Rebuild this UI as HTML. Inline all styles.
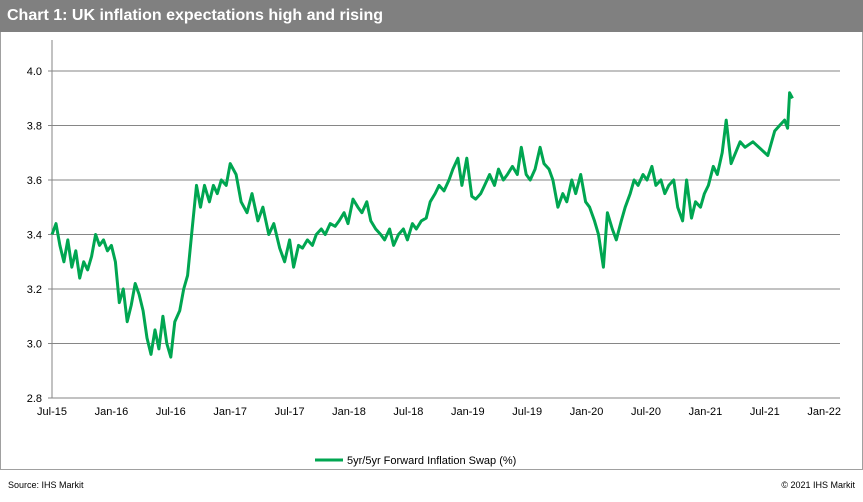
<!DOCTYPE html>
<html><head><meta charset="utf-8"><style>
body{margin:0;background:#fff;font-family:"Liberation Sans",sans-serif;}
#wrap{position:relative;width:863px;height:502px;overflow:hidden;background:#fff;}
#hdr{position:absolute;left:0;top:0;width:863px;height:32px;background:#808080;}
#hdr span{position:absolute;left:7px;top:7px;color:#fff;font-weight:bold;font-size:16px;}
#frame{position:absolute;left:0;top:32px;width:861px;height:437px;border:1px solid #a0a0a0;border-top:none;}
#src{position:absolute;left:8px;top:480px;font-size:9px;color:#000;}
#copy{position:absolute;right:8px;top:480px;font-size:9px;color:#000;}
</style></head><body>
<div id="wrap">
<div id="hdr"><span>Chart 1: UK inflation expectations high and rising</span></div>
<div id="frame"></div>
<svg id="chart" width="863" height="502" style="position:absolute;left:0;top:0"></svg>
<div id="src">Source: IHS Markit</div>
<div id="copy">© 2021 IHS Markit</div>
</div>
<script>
const xTickLabels=["Jul-15","Jan-16","Jul-16","Jan-17","Jul-17","Jan-18","Jul-18","Jan-19","Jul-19","Jan-20","Jul-20","Jan-21","Jul-21","Jan-22"];
const yTicks=[2.8,3.0,3.2,3.4,3.6,3.8,4.0];
// months since Jul-2015
const dates=[0,0.4,0.8,1.2,1.6,2,2.4,2.8,3.2,3.6,4,4.4,4.8,5.2,5.6,6,6.4,6.8,7.2,7.6,8,8.4,8.8,9.2,9.6,10,10.4,10.8,11.2,11.6,12,
12.4,12.9,13.3,13.7,14.1,14.6,15,15.4,15.9,16.3,16.7,17.1,17.6,18,
18.6,19.1,19.7,20.2,20.8,21.3,21.9,22.4,23,23.5,
24.0,24.4,24.9,25.3,25.8,26.3,26.7,27.2,27.6,28.1,28.6,29.0,29.5,29.9,30.4,30.9,31.3,31.8,32.2,32.7,33.2,33.6,34.1,34.5,35.0,35.5,35.9,36.4,36.8,37.3,37.8,38.2,38.7,39.1,39.6,40.1,40.5,41.0,41.4,41.9,42.4,42.8,43.3,43.7,44.2,44.7,45.1,45.6,46.0,46.5,47.0,47.4,47.9,48.3,48.8,49.3,49.7,50.2,50.6,51.1,51.6,52.0,52.5,52.9,53.4,53.9,54.3,54.8,55.2,55.7,
56.1,56.6,57.0,57.5,57.9,58.4,58.8,59.2,59.7,60.1,60.6,61.0,61.5,61.9,62.3,62.8,63.2,63.7,64.1,64.6,65.0,65.5,65.9,66.3,66.8,67.2,67.7,68.1,
68.6,69.5,70.0,70.8,72.3,73.0,73.5,74.0,74.3,74.5,74.8];
const values=[3.40,3.44,3.36,3.30,3.38,3.28,3.34,3.24,3.30,3.27,3.32,3.40,3.36,3.38,3.34,3.36,3.30,3.15,3.20,3.08,3.14,3.22,3.18,3.12,3.02,2.96,3.05,2.98,3.10,3.00,2.95,
3.08,3.12,3.20,3.25,3.40,3.58,3.50,3.58,3.52,3.58,3.55,3.60,3.58,3.66,
3.62,3.52,3.48,3.55,3.45,3.50,3.40,3.44,3.35,3.30,
3.38,3.28,3.36,3.35,3.38,3.36,3.40,3.42,3.40,3.44,3.43,3.45,3.48,3.44,3.53,3.50,3.48,3.52,3.45,3.42,3.40,3.38,3.42,3.36,3.40,3.42,3.38,3.44,3.42,3.45,3.46,3.52,3.55,3.58,3.56,3.60,3.64,3.68,3.58,3.68,3.54,3.53,3.55,3.58,3.62,3.58,3.64,3.60,3.62,3.65,3.62,3.72,3.62,3.60,3.64,3.72,3.66,3.64,3.60,3.50,3.55,3.52,3.60,3.55,3.62,3.52,3.50,3.45,3.40,3.28,
3.48,3.42,3.38,3.45,3.50,3.55,3.60,3.58,3.62,3.60,3.65,3.58,3.60,3.55,3.58,3.60,3.50,3.45,3.60,3.46,3.52,3.50,3.55,3.58,3.65,3.62,3.70,3.82,
3.66,3.74,3.72,3.74,3.69,3.78,3.80,3.82,3.79,3.92,3.90];
const NS="http://www.w3.org/2000/svg";
const svg=document.getElementById('chart');
const X0=52,PXM=9.9,Y0=398,PXV=272.5/1.0;
function xs(t){return X0+t*PXM;}
function ys(v){return Y0-(v-2.8)/0.2*54.5;}
function mk(tag,attrs){const e=document.createElementNS(NS,tag);for(const k in attrs)e.setAttribute(k,attrs[k]);svg.appendChild(e);return e;}
yTicks.forEach((v,i)=>{
  if(v>2.8){const g=mk('line',{x1:X0,x2:840,y1:ys(v),y2:ys(v),stroke:'#868686','stroke-width':1});
  
  }
  const tk=mk('line',{x1:X0-4,x2:X0,y1:ys(v),y2:ys(v),stroke:'#868686'});
  
  
  const t=mk('text',{x:X0-10,y:ys(v)+4,'text-anchor':'end','font-size':'11','font-family':'Liberation Sans, sans-serif',fill:'#000'});
  t.textContent=v.toFixed(1);
  
  
});
const ax=mk('line',{x1:X0,x2:X0,y1:40,y2:Y0,stroke:'#868686'});


const bx=mk('line',{x1:X0,x2:840,y1:Y0,y2:Y0,stroke:'#868686'});


xTickLabels.forEach((l,i)=>{
  const t=mk('text',{x:xs(i*6),y:415,'text-anchor':'middle','font-size':'11','font-family':'Liberation Sans, sans-serif',fill:'#000'});
  t.textContent=l;
  
  
});
let d='';
dates.forEach((t,i)=>{d+=(i?'L':'M')+xs(t).toFixed(1)+','+ys(values[i]).toFixed(1);});
const p=mk('path',{d:d,fill:'none',stroke:'#00a651','stroke-width':3,'stroke-linejoin':'round'});


const ll=mk('line',{x1:315,x2:343,y1:460,y2:460,stroke:'#00a651','stroke-width':3});


const lt=mk('text',{x:347,y:464,'font-size':'11','font-family':'Liberation Sans, sans-serif',fill:'#000'});
lt.textContent='5yr/5yr Forward Inflation Swap (%)';


</script>
</body></html>
